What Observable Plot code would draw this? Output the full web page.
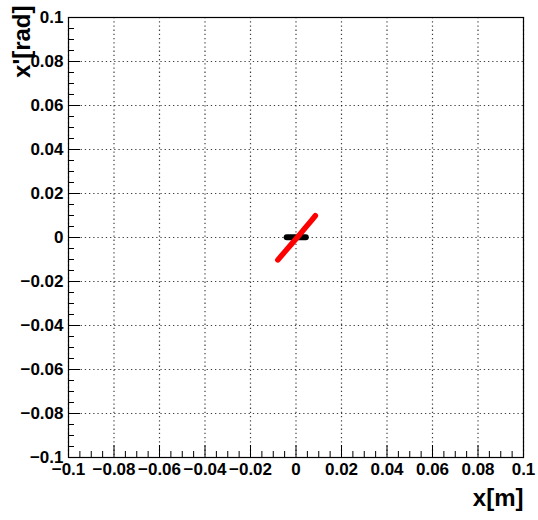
<!DOCTYPE html>
<html>
<head>
<meta charset="utf-8">
<script src="https://cdn.jsdelivr.net/npm/d3@7"></script>
<script src="https://cdn.jsdelivr.net/npm/@observablehq/plot@0.6"></script>
<style>
  html, body { margin: 0; padding: 0; background: #fff; }
  svg { display: block; }
</style>
</head>
<body>
<div id="chart"></div>
<script>
// Tick values (major) for both axes
const xTicks = [-0.1, -0.08, -0.06, -0.04, -0.02, 0, 0.02, 0.04, 0.06, 0.08, 0.1];
const yTicks = [-0.1, -0.08, -0.06, -0.04, -0.02, 0, 0.02, 0.04, 0.06, 0.08, 0.1];

// Red beam (phase space) – points read along its band
const redX = [-0.0080, -0.005, -0.002, 0.001, 0.004, 0.0068, 0.0085];
const redY = [-0.0102, -0.0066, -0.0030, 0.0006, 0.0043, 0.0077, 0.0099];

// Black beam – points read along its band
const blackX = [-0.0041, -0.002, 0, 0.002, 0.0043];
const blackY = [0.0001, 0.0001, 0.0001, 0.0001, 0.0001];

const W = 538, H = 520;
const mL = 68, mR = 15, mT = 17, mB = 63;
const innerW = W - mL - mR, innerH = H - mT - mB;

const red = redX.map((x, i) => ({x, y: redY[i]}));
const black = blackX.map((x, i) => ({x, y: blackY[i]}));

// minor ticks: 4 subdivisions between majors
const minor = (ticks) => {
  const out = [];
  for (let i = 0; i < ticks.length - 1; i++) {
    const a = ticks[i], b = ticks[i + 1];
    for (let k = 1; k < 4; k++) out.push(a + (b - a) * k / 4);
  }
  return out;
};
const xMinor = minor(xTicks), yMinor = minor(yTicks);

const fmt = d => {
  if (Math.abs(d) < 1e-12) return "0";
  const s = String(+d.toFixed(2));
  return s.replace("-", "\u2212");
};

const chart = Plot.plot({
  width: W,
  height: H,
  marginLeft: mL,
  marginRight: mR,
  marginTop: mT,
  marginBottom: mB,
  x: {domain: [-0.1, 0.1]},
  y: {domain: [-0.1, 0.1]},
  style: {fontFamily: "'Liberation Sans', Arial, sans-serif", fontWeight: "bold", color: "#000", background: "#fff"},
  marks: [
    Plot.gridX(xTicks, {stroke: "#000", strokeOpacity: 0.75, strokeWidth: 1.2, strokeDasharray: "1.3,2.9"}),
    Plot.gridY(yTicks, {stroke: "#000", strokeOpacity: 0.75, strokeWidth: 1.2, strokeDasharray: "1.3,2.9"}),
    Plot.tickX(xTicks, {x: d => d, stroke: "#000", insetTop: innerH - 12}),
    Plot.tickX(xMinor, {x: d => d, stroke: "#000", insetTop: innerH - 6}),
    Plot.tickY(yTicks, {y: d => d, stroke: "#000", insetRight: innerW - 12}),
    Plot.tickY(yMinor, {y: d => d, stroke: "#000", insetRight: innerW - 6}),
    Plot.axisX(xTicks, {tickSize: 0, tickPadding: 5, fontSize: 17, tickFormat: fmt, label: null}),
    Plot.axisY(yTicks, {tickSize: 0, tickPadding: 5, fontSize: 17, tickFormat: fmt, label: null}),
    Plot.line(black, {x: "x", y: "y", stroke: "#000", strokeWidth: 6, strokeLinecap: "round"}),
    Plot.line(red, {x: "x", y: "y", stroke: "#ff0000", strokeWidth: 5.5, strokeLinecap: "round"}),
    Plot.frame({stroke: "#000", strokeWidth: 1.2}),
    Plot.text(["x[m]"], {frameAnchor: "bottom-right", textAnchor: "end", lineAnchor: "bottom", dx: 0, dy: 48, fontSize: 24, fontWeight: "bold", fill: "#000"}),
    Plot.text(["x'[rad]"], {frameAnchor: "top-left", textAnchor: "end", lineAnchor: "bottom", rotate: -90, dx: -39, dy: -12, fontSize: 24, fontWeight: "bold", fill: "#000"})
  ]
});

document.getElementById("chart").appendChild(chart);
</script>
</body>
</html>
